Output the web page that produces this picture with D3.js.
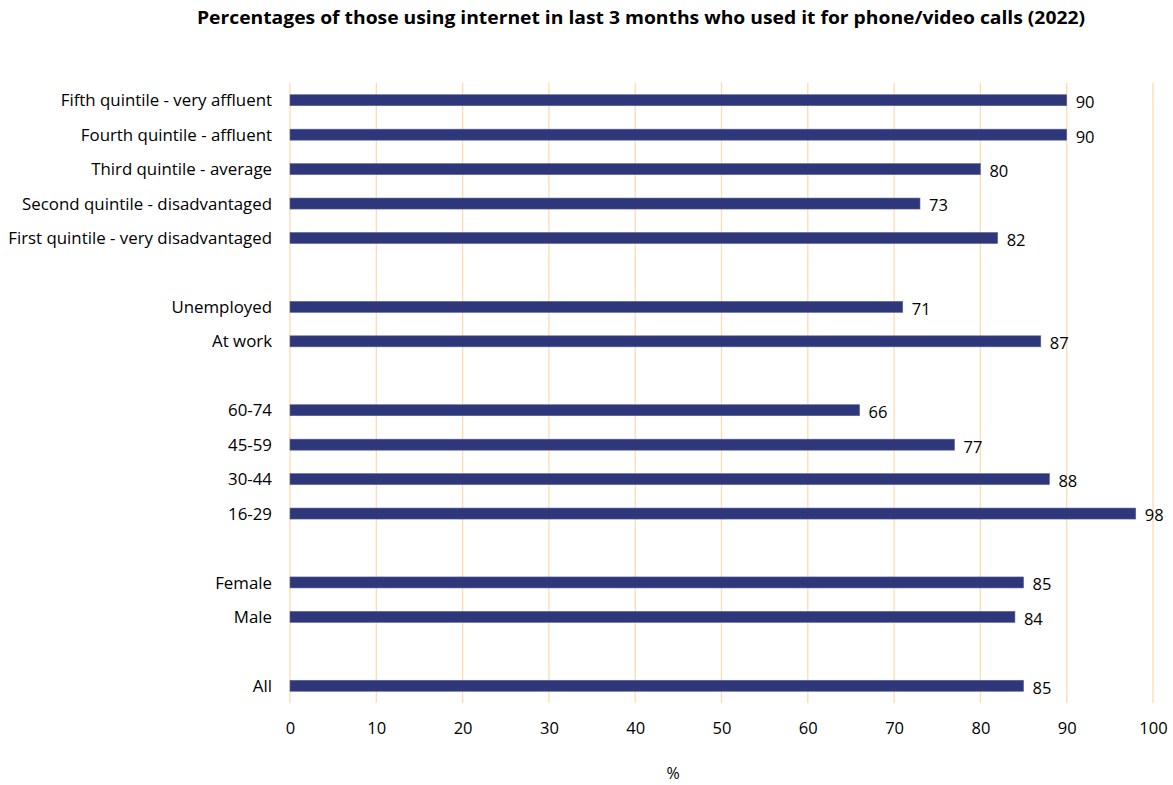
<!DOCTYPE html>
<html>
<head>
<meta charset="utf-8">
<script src="https://cdn.jsdelivr.net/npm/d3@7"></script>
<style>
  html, body { margin: 0; padding: 0; background: #fff; }
  svg { display: block; font-family: "Open Sans", "Noto Sans", sans-serif; }
</style>
</head>
<body>
<svg id="chart" width="1173" height="785"></svg>
<script>
// Rows from top to bottom; empty strings are spacer rows between groups
const categories = [
  "Fifth quintile - very affluent",
  "Fourth quintile - affluent",
  "Third quintile - average",
  "Second quintile - disadvantaged",
  "First quintile - very disadvantaged",
  "",
  "Unemployed",
  "At work",
  "",
  "60-74",
  "45-59",
  "30-44",
  "16-29",
  "",
  "Female",
  "Male",
  "",
  "All"
];
const values = [90, 90, 80, 73, 82, null, 71, 87, null, 66, 77, 88, 98, null, 85, 84, null, 85];
const tickValues = [0, 10, 20, 30, 40, 50, 60, 70, 80, 90, 100];
const title = "Percentages of those using internet in last 3 months who used it for phone/video calls (2022)";
const xAxisTitle = "%";

const svg = d3.select("#chart");
const plot = { left: 290, right: 1153, top: 83, bottom: 703 };

const x = d3.scaleLinear().domain([0, 100]).range([plot.left, plot.right]);
const y = d3.scaleBand().domain(d3.range(categories.length)).range([plot.top, plot.bottom]).padding(0);
const barH = 11;

// Title
svg.append("text")
  .attr("x", 641).attr("y", 24)
  .attr("text-anchor", "middle")
  .style("font-size", "17.5px").style("font-weight", "bold").style("fill", "#000")
  .attr("textLength", 888).attr("lengthAdjust", "spacingAndGlyphs")
  .text(title);

// Vertical gridlines
svg.append("g").selectAll("line").data(tickValues).join("line")
  .attr("x1", d => x(d)).attr("x2", d => x(d))
  .attr("y1", plot.top).attr("y2", plot.bottom)
  .attr("stroke", "#FDDCB0").attr("stroke-width", 1.3);

const rows = categories.map((c, i) => ({ c, v: values[i], i }));

// Category labels, sized so the longest one fits the left margin
const labels = svg.append("g").selectAll("text").data(rows.filter(d => d.c !== "")).join("text")
  .attr("x", plot.left - 18)
  .attr("y", d => y(d.i) + y.bandwidth() / 2)
  .attr("dy", "0.36em")
  .attr("text-anchor", "end")
  .style("font-size", "16px").style("fill", "#000")
  .text(d => d.c);
const longest = d3.max(labels.nodes(), n => n.getComputedTextLength());
const labelSize = Math.min(18, 16 * 264 / longest);
labels.style("font-size", labelSize + "px");

// Bars
const data = rows.filter(d => d.v != null);
svg.append("g").selectAll("rect").data(data).join("rect")
  .attr("x", x(0))
  .attr("y", d => y(d.i) + y.bandwidth() / 2 - barH / 2)
  .attr("width", d => x(d.v) - x(0))
  .attr("height", barH)
  .attr("fill", "#2E3779")
  .attr("stroke", "#5A62A0").attr("stroke-width", 0.6);

// Value labels
svg.append("g").selectAll("text").data(data).join("text")
  .attr("x", d => x(d.v) + 9)
  .attr("y", d => y(d.i) + y.bandwidth() / 2 + 2)
  .attr("dy", "0.36em")
  .style("font-size", "16.5px").style("fill", "#000")
  .text(d => d.v);

// X axis tick labels
const axis = svg.append("g")
  .attr("transform", `translate(0,${plot.bottom})`)
  .call(d3.axisBottom(x).tickValues(tickValues).tickSize(0).tickPadding(19));
axis.select(".domain").remove();
axis.selectAll("text").style("font-size", "16.5px").style("fill", "#000")
  .style("font-family", "\"Open Sans\", \"Noto Sans\", sans-serif");

// Axis title
svg.append("text")
  .attr("x", 673).attr("y", 779)
  .attr("text-anchor", "middle")
  .style("font-size", "16px").style("fill", "#000")
  .text(xAxisTitle);
</script>
</body>
</html>
